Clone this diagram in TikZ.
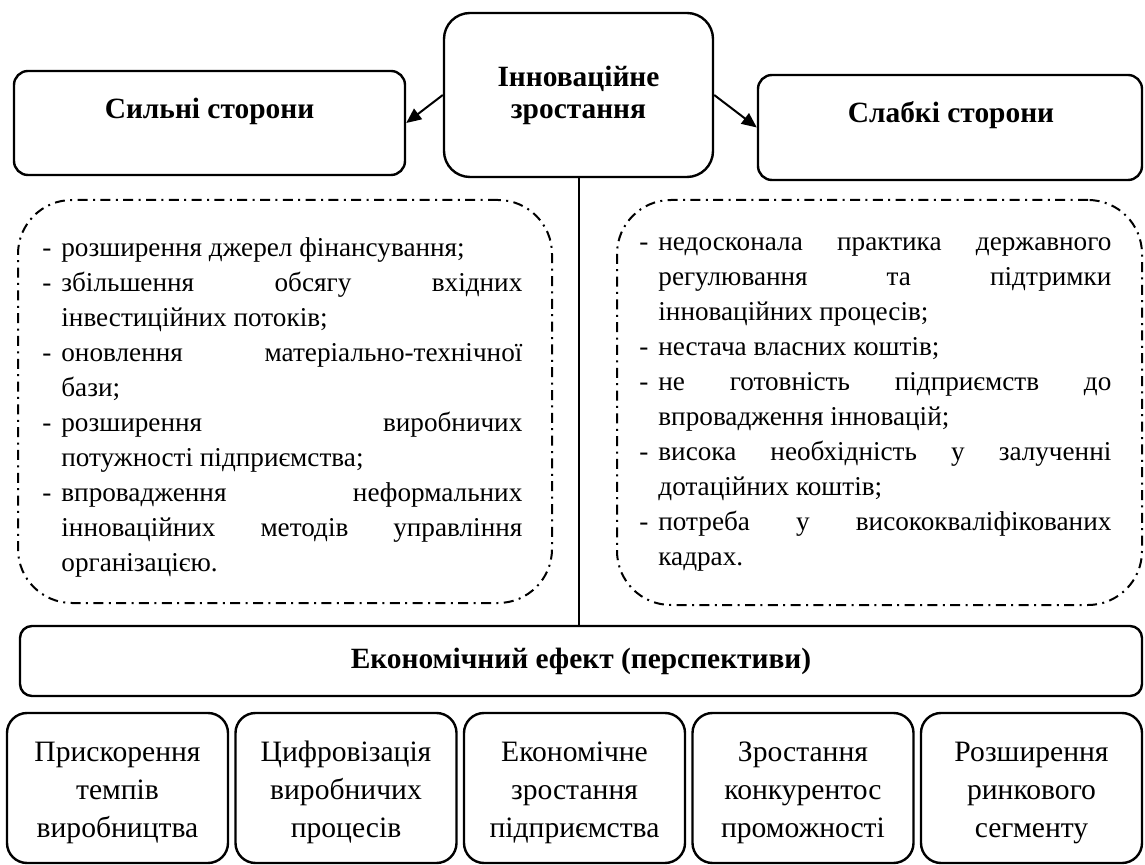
\documentclass[tikz,border=0pt]{standalone}
\usepackage{fontspec}
\setmainfont{Liberation Serif}
\usetikzlibrary{arrows.meta}
\newlength\lwL \setlength\lwL{240pt}
\newlength\lwR \setlength\lwR{236pt}
\newcommand\dsh{\makebox[9.5pt][l]{-}}
\newcommand\ind{\hspace*{9.5pt}}
\newcommand\jL[1]{\makebox[\lwL][s]{#1}}
\newcommand\jR[1]{\makebox[\lwR][s]{#1}}
\begin{document}
\begin{tikzpicture}[x=0.5pt,y=-0.5pt,
  sbox/.style={draw,line width=1.2pt,rounded corners=7pt,inner sep=0pt},
  dbox/.style={draw,line width=1pt,rounded corners=27pt,inner sep=0pt,
    dash pattern=on 5pt off 2.7pt on 1pt off 2.7pt},
  head/.style={font=\fontsize{14.7pt}{16pt}\selectfont\bfseries,align=center,inner sep=0pt},
  body/.style={font=\fontsize{13.6pt}{17.5pt}\selectfont,align=left,inner sep=0pt},
  effect/.style={sbox,rounded corners=10pt,minimum width=110.5pt,minimum height=75pt},
  efftext/.style={font=\fontsize{14.8pt}{19pt}\selectfont,align=center,inner sep=0pt},
  arr/.style={line width=1pt,-{Triangle[length=7.5pt,width=6.5pt]}}]
\useasboundingbox (0,0) rectangle (1145,865);

% top boxes
\node[sbox,minimum width=195.5pt,minimum height=52pt] (strong) at (209.5,123) {};
\node[head] (strongt) at (209.5,111) {Сильні сторони};
\node[sbox,rounded corners=13pt,minimum width=134.5pt,minimum height=82pt,head] (center) at (578.5,95) {Інноваційне\\зростання};
\node[sbox,minimum width=192pt,minimum height=52.5pt] (weak) at (950,127.5) {};
\node[head] (weakt) at (951,115) {Слабкі сторони};

\draw[arr] (center.west) -- (strong.east);
\draw[arr] (center.east) -- (weak.west);

% dashed boxes
\node[dbox,minimum width=267pt,minimum height=201.5pt] (sbody) at (285,401.5) {};
\node[dbox,minimum width=262.5pt,minimum height=202.5pt] (wbody) at (879.5,402.5) {};

\node[body,anchor=north west] (stext) at (42,237) {%
\dsh розширення джерел фінансування;\\
\jL{\dsh збільшення обсягу вхідних}\\
\ind інвестиційних потоків;\\
\jL{\dsh оновлення матеріально-технічної}\\
\ind бази;\\
\jL{\dsh розширення виробничих}\\
\ind потужності підприємства;\\
\jL{\dsh впровадження неформальних}\\
\jL{\ind інноваційних методів управління}\\
\ind організацією.};

\node[body,anchor=north west] (wtext) at (639,237) {%
\jR{\dsh недосконала практика державного}\\
\jR{\ind регулювання та підтримки}\\
\ind інноваційних процесів;\\
\dsh нестача власних коштів;\\
\jR{\dsh не готовність підприємств до}\\
\ind впровадження інновацій;\\
\jR{\dsh висока необхідність у залученні}\\
\ind дотаційних коштів;\\
\jR{\dsh потреба у висококваліфікованих}\\
\ind кадрах.};

% economic effect
\node[sbox,rounded corners=6pt,minimum width=561pt,minimum height=35pt,head] (econ) at (581,661) {Економічний ефект (перспективи)};
\draw[line width=1pt] (center.south) -- (center.south |- econ.north);

\node[effect] (e1) at (117.5,788) {};
\node[effect] (e2) at (346,788) {};
\node[effect] (e3) at (574.5,788) {};
\node[effect] (e4) at (803,788) {};
\node[effect] (e5) at (1031.5,788) {};
\node[efftext] (e1t) at (117.5,792) {\strut Прискорення\\темпів\\виробництва\strut};
\node[efftext] (e2t) at (346,792) {\strut Цифровізація\\виробничих\\процесів\strut};
\node[efftext] (e3t) at (574.5,792) {\strut Економічне\\зростання\\підприємства\strut};
\node[efftext] (e4t) at (803,792) {\strut Зростання\\конкурентос\\проможності\strut};
\node[efftext] (e5t) at (1031.5,792) {\strut Розширення\\ринкового\\сегменту\strut};
\end{tikzpicture}
\end{document}
